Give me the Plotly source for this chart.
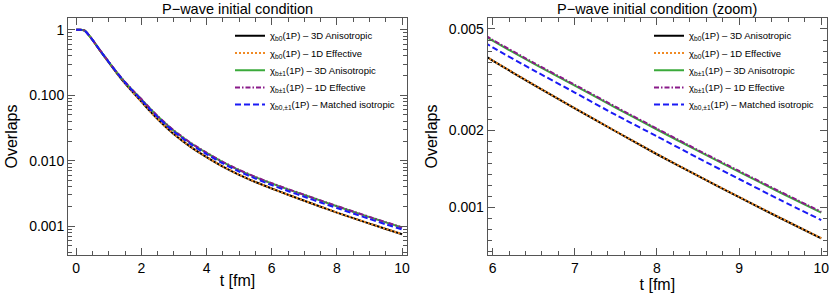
import math
import plotly.graph_objects as go

# ---- data ----
t = [0, 0.1, 0.2, 0.25, 0.3, 0.4, 0.5, 0.75, 1.0, 1.25, 1.5, 1.75, 2.0, 2.25, 2.5, 2.75,
     3.0, 3.5, 4.0, 4.5, 5.0, 5.5, 6.0, 6.5, 7.0, 7.5, 8.0, 8.5, 9.0, 9.5, 10.0]

chi_b0_3d = [1.0, 1.0, 0.9954, 0.977, 0.933, 0.8128, 0.6998, 0.4677, 0.3162, 0.2163, 0.1514,
             0.1096, 0.08035, 0.05821, 0.04315, 0.03273, 0.02541, 0.01641, 0.01135, 0.008128,
             0.006095, 0.004732, 0.003758, 0.003020, 0.002443, 0.001982, 0.001614, 0.001327,
             0.001096, 0.000908, 0.000755]

chi_b0_1d = [1.0, 1.0, 0.9954, 0.977, 0.933, 0.8130, 0.7001, 0.4680, 0.3165, 0.2166, 0.1516,
             0.1098, 0.08045, 0.05828, 0.04321, 0.03278, 0.02545, 0.01644, 0.01137, 0.008141,
             0.006105, 0.004740, 0.003764, 0.003025, 0.002447, 0.001985, 0.001617, 0.001329,
             0.001098, 0.000910, 0.000757]

chi_b1_3d = [1.0, 1.0, 0.9954, 0.977, 0.9354, 0.8166, 0.7047, 0.4742, 0.3236, 0.2239, 0.1585,
             0.1167, 0.08690, 0.06383, 0.04786, 0.03673, 0.02877, 0.01884, 0.01318, 0.009528,
             0.007194, 0.005623, 0.004498, 0.003656, 0.002999, 0.002455, 0.002018, 0.001663,
             0.001377, 0.001143, 0.000953]

chi_b1_1d = [1.0, 1.0, 0.9954, 0.977, 0.9354, 0.8166, 0.7050, 0.4750, 0.3245, 0.2248, 0.1593,
             0.1174, 0.08750, 0.06430, 0.04822, 0.03700, 0.02898, 0.01898, 0.01328, 0.009600,
             0.007250, 0.005667, 0.004533, 0.003685, 0.003022, 0.002474, 0.002034, 0.001676,
             0.001388, 0.001152, 0.000960]

chi_iso = [1.0, 1.0, 0.9954, 0.977, 0.9354, 0.8147, 0.7031, 0.4721, 0.3214, 0.2215, 0.1563,
           0.1146, 0.08492, 0.06209, 0.04639, 0.03548, 0.02773, 0.01807, 0.01262, 0.009078,
           0.006839, 0.005338, 0.004236, 0.003443, 0.002818, 0.002301, 0.001897, 0.001561,
           0.001291, 0.001069, 0.000891]

names = [
    "χ<sub>b0</sub>(1P) – 3D Anisotropic",
    "χ<sub>b0</sub>(1P) – 1D Effective",
    "χ<sub>b±1</sub>(1P) – 3D Anisotropic",
    "χ<sub>b±1</sub>(1P) – 1D Effective",
    "χ<sub>b0,±1</sub>(1P) – Matched isotropic",
]
series = [chi_b0_3d, chi_b0_1d, chi_b1_3d, chi_b1_1d, chi_iso]

left_yticks = [0.001, 0.01, 0.1, 1]
left_yticktext = ["0.001", "0.010", "0.100", "1"]
right_yticks = [0.001, 0.002, 0.005]
right_yticktext = ["0.001", "0.002", "0.005"]
left_xticks = [0, 2, 4, 6, 8, 10]
right_xticks = [6, 7, 8, 9, 10]

# ---- styles ----
colors = ["#000000", "#F08A24", "#3BAA3B", "#8A1A8A", "#1A1AF5"]
dashes = ["solid", "2px,2px", "solid", "5px,2px,1.5px,2px", "6px,3px"]
widths = [2, 2, 2, 2, 2]
FONT = "Liberation Sans, Arial, sans-serif"
FRAME = "#555555"

W, H = 830, 303
def px(x):
    return x / W
def py(y):
    return 1 - y / H

row_y = [35.7, 53.0, 70.3, 87.6, 104.5]

fig = go.Figure()
for i, (name, y, c, d, w) in enumerate(zip(names, series, colors, dashes, widths)):
    fig.add_trace(go.Scatter(x=t, y=y, mode="lines", name=name, xaxis="x", yaxis="y",
                             line=dict(color=c, dash=d, width=w, shape="spline", smoothing=0.6),
                             legend="legend" if i == 0 else f"legend{i + 1}"))
for i, (name, y, c, d, w) in enumerate(zip(names, series, colors, dashes, widths)):
    fig.add_trace(go.Scatter(x=t, y=y, mode="lines", name=name, xaxis="x2", yaxis="y2",
                             line=dict(color=c, dash=d, width=w, shape="spline", smoothing=0.6),
                             legend=f"legend{i + 6}"))

# minor tick positions
left_minor_y = [m * 10 ** k for k in range(-4, 1) for m in range(2, 10)]
lo, mid, hi = math.log10(0.001), math.log10(0.002), math.log10(0.005)
step1 = (mid - lo) / 7
step2 = (hi - mid) / 9
right_minor_y = [10 ** (lo - step1 * i) for i in range(1, 5)]
right_minor_y += [10 ** (lo + step1 * i) for i in range(1, 7)]
right_minor_y += [10 ** (mid + step2 * i) for i in range(1, 9)]
right_minor_y += [10 ** (hi + step2 * i) for i in range(1, 3)]
left_minor_x = [i * 0.5 for i in range(-1, 21)]
right_minor_x = [5.8 + i * 0.2 for i in range(0, 23)]

common_axis = dict(showline=True, linecolor=FRAME, linewidth=1, mirror="allticks",
                   ticks="inside", tickcolor=FRAME, ticklen=7, tickwidth=1,
                   showgrid=False, zeroline=False, automargin=False,
                   tickfont=dict(family=FONT, size=14, color="#000"))
minor_style = dict(ticks="inside", ticklen=4, tickcolor=FRAME, tickwidth=1, showgrid=False)

ydom = [py(255), py(18)]
legend_style = dict(xanchor="left", yanchor="middle", bgcolor="rgba(0,0,0,0)",
                    font=dict(family=FONT, size=9.5), tracegroupgap=0)
legends = {}
for i, ry in enumerate(row_y):
    legends["legend" if i == 0 else f"legend{i + 1}"] = dict(x=px(230), y=py(ry), **legend_style)
    legends[f"legend{i + 6}"] = dict(x=px(649), y=py(ry), **legend_style)

fig.update_layout(
    width=W, height=H, margin=dict(l=0, r=0, t=0, b=0, autoexpand=False),
    paper_bgcolor="white", plot_bgcolor="white", showlegend=True,
    font=dict(family=FONT, color="#000"),
    xaxis=dict(domain=[px(68), px(407)], range=[-0.25, 10.15], anchor="y",
               tickmode="array", tickvals=left_xticks,
               minor=dict(tickmode="array", tickvals=left_minor_x, **minor_style),
               title=dict(text="t [fm]", font=dict(family=FONT, size=16), standoff=0),
               **common_axis),
    yaxis=dict(domain=ydom, type="log", range=[-3.44, 0.18], anchor="x",
               tickmode="array", tickvals=left_yticks, ticktext=left_yticktext,
               minor=dict(tickmode="array", tickvals=left_minor_y, **minor_style),
               title=dict(text="Overlaps", font=dict(family=FONT, size=16), standoff=7),
               **common_axis),
    xaxis2=dict(domain=[px(487.7), px(827)], range=[5.94, 10.07], anchor="y2",
                tickmode="array", tickvals=right_xticks,
                minor=dict(tickmode="array", tickvals=right_minor_x, **minor_style),
                title=dict(text="t [fm]", font=dict(family=FONT, size=16), standoff=0),
                **common_axis),
    yaxis2=dict(domain=ydom, type="log", range=[-3.187, -2.258], anchor="x2",
                tickmode="array", tickvals=right_yticks, ticktext=right_yticktext,
                minor=dict(tickmode="array", tickvals=right_minor_y, **minor_style),
                title=dict(text="Overlaps", font=dict(family=FONT, size=16), standoff=7),
                **common_axis),
    annotations=[
        dict(text="P−wave initial condition", x=px(237.5), y=py(9.5), xref="paper", yref="paper",
             xanchor="center", yanchor="middle", showarrow=False,
             font=dict(family=FONT, size=14.5)),
        dict(text="P−wave initial condition (zoom)", x=px(657), y=py(9.5), xref="paper",
             yref="paper", xanchor="center", yanchor="middle", showarrow=False,
             font=dict(family=FONT, size=14.5)),
    ],
    **legends,
)

fig.write_html("out.html", config={"displayModeBar": False},
               post_script="document.body.style.margin='0';document.body.style.overflow='hidden';")
